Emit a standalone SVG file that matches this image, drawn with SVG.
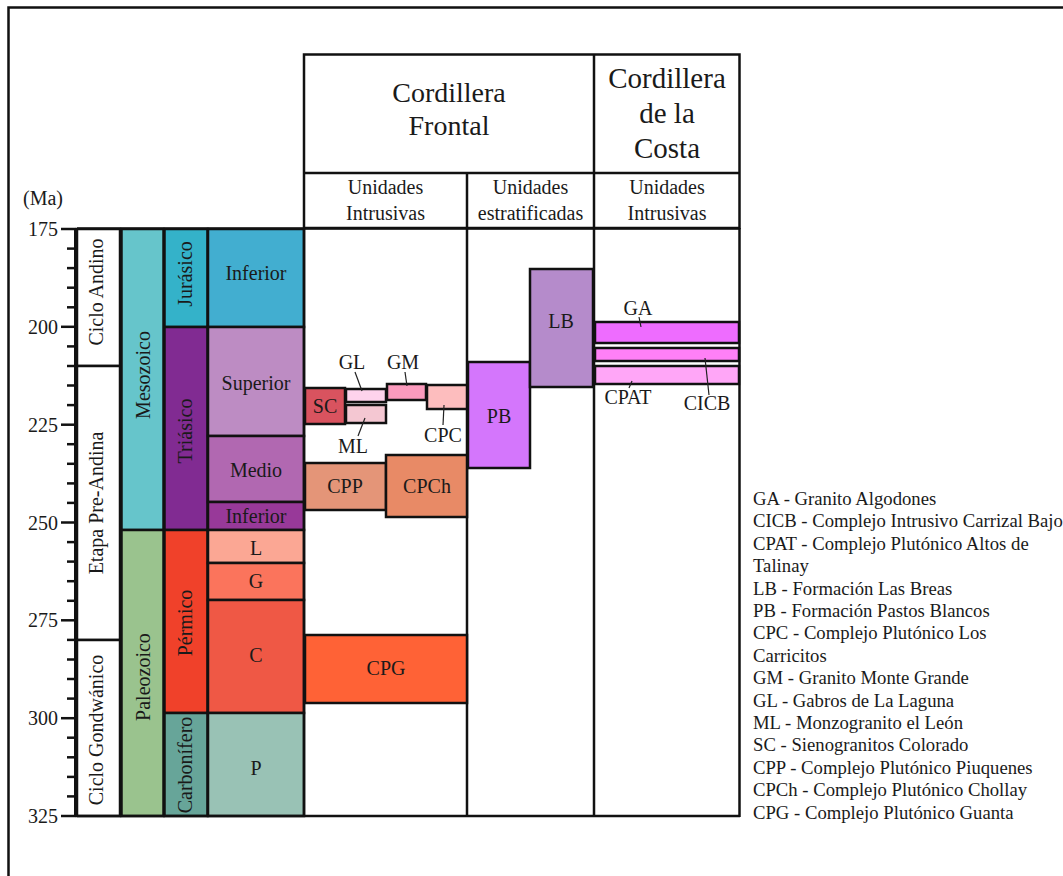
<svg xmlns="http://www.w3.org/2000/svg" width="1063" height="876" viewBox="0 0 1063 876">
<style>
text{font-family:"Liberation Serif","Times New Roman",serif;fill:#1a1a1a}
.b{stroke:#111;stroke-width:2.5}
.t20{font-size:20px}
.c{text-anchor:middle}
.r{text-anchor:end}
.tick{stroke:#111;stroke-width:2.5}
.lead{stroke:#222;stroke-width:1.2;fill:none}
.leg{font-size:18.7px}
</style>
<rect x="0" y="0" width="1063" height="876" fill="#fff"/>
<rect x="8.5" y="7.5" width="1100" height="900" fill="none" stroke="#111" stroke-width="2.5"/>

<g id="axis">
<text class="t20" x="23" y="205">(Ma)</text>
<line x1="75.5" y1="228" x2="75.5" y2="817" stroke="#111" stroke-width="3"/>
<g class="tick">
<line x1="61" y1="229" x2="76" y2="229"/><line x1="67" y1="248.6" x2="76" y2="248.6"/><line x1="67" y1="268.1" x2="76" y2="268.1"/><line x1="67" y1="287.7" x2="76" y2="287.7"/><line x1="67" y1="307.3" x2="76" y2="307.3"/>
<line x1="61" y1="326.8" x2="76" y2="326.8"/><line x1="67" y1="346.4" x2="76" y2="346.4"/><line x1="67" y1="366" x2="76" y2="366"/><line x1="67" y1="385.5" x2="76" y2="385.5"/><line x1="67" y1="405.1" x2="76" y2="405.1"/>
<line x1="61" y1="424.7" x2="76" y2="424.7"/><line x1="67" y1="444.2" x2="76" y2="444.2"/><line x1="67" y1="463.8" x2="76" y2="463.8"/><line x1="67" y1="483.4" x2="76" y2="483.4"/><line x1="67" y1="502.9" x2="76" y2="502.9"/>
<line x1="61" y1="522.5" x2="76" y2="522.5"/><line x1="67" y1="542.1" x2="76" y2="542.1"/><line x1="67" y1="561.6" x2="76" y2="561.6"/><line x1="67" y1="581.2" x2="76" y2="581.2"/><line x1="67" y1="600.8" x2="76" y2="600.8"/>
<line x1="61" y1="620.3" x2="76" y2="620.3"/><line x1="67" y1="639.9" x2="76" y2="639.9"/><line x1="67" y1="659.5" x2="76" y2="659.5"/><line x1="67" y1="679" x2="76" y2="679"/><line x1="67" y1="698.6" x2="76" y2="698.6"/>
<line x1="61" y1="718.2" x2="76" y2="718.2"/><line x1="67" y1="737.7" x2="76" y2="737.7"/><line x1="67" y1="757.3" x2="76" y2="757.3"/><line x1="67" y1="776.9" x2="76" y2="776.9"/><line x1="67" y1="796.4" x2="76" y2="796.4"/>
<line x1="61" y1="816" x2="76" y2="816"/>
</g>
<g class="t20 r">
<text x="58" y="236">175</text><text x="58" y="334">200</text><text x="58" y="432">225</text><text x="58" y="530">250</text><text x="58" y="627">275</text><text x="58" y="725">300</text><text x="58" y="823">325</text>
</g>
</g>

<g id="ciclo-andino"><rect class="b" x="77" y="229" width="43" height="137" fill="#fff"/><text class="t20 c" transform="translate(103,292) rotate(-90)">Ciclo Andino</text></g>
<g id="etapa-pre-andina"><rect class="b" x="77" y="366" width="43" height="274" fill="#fff"/><text class="t20 c" transform="translate(103,503) rotate(-90)">Etapa Pre-Andina</text></g>
<g id="ciclo-gondwanico"><rect class="b" x="77" y="640" width="43" height="176" fill="#fff"/><text class="t20 c" transform="translate(103,730) rotate(-90)">Ciclo Gondwánico</text></g>

<g id="mesozoico"><rect class="b" x="121.5" y="229" width="42" height="301" fill="#66C5CB"/><text class="t20 c" transform="translate(150,375) rotate(-90)">Mesozoico</text></g>
<g id="paleozoico"><rect class="b" x="121.5" y="530" width="42" height="286" fill="#9AC38E"/><text class="t20 c" transform="translate(150,677) rotate(-90)">Paleozoico</text></g>

<g id="jurasico"><rect class="b" x="164.5" y="229" width="43" height="98" fill="#34B2C9"/><text class="t20 c" transform="translate(192,274) rotate(-90)">Jurásico</text></g>
<g id="triasico"><rect class="b" x="164.5" y="327" width="43" height="203" fill="#812B92"/><text class="t20 c" transform="translate(192,431) rotate(-90)">Triásico</text></g>
<g id="permico"><rect class="b" x="164.5" y="530" width="43" height="183" fill="#F0412A"/><text class="t20 c" transform="translate(192,623) rotate(-90)">Pérmico</text></g>
<g id="carbonifero"><rect class="b" x="164.5" y="713" width="43" height="103" fill="#67A599"/><text class="t20 c" transform="translate(192,765) rotate(-90)">Carbonífero</text></g>

<g id="jur-inferior"><rect class="b" x="208" y="229" width="96" height="98" fill="#42AED0"/><text class="t20 c" x="256" y="280">Inferior</text></g>
<g id="superior"><rect class="b" x="208" y="327" width="96" height="109" fill="#BD8CC3"/><text class="t20 c" x="256" y="390">Superior</text></g>
<g id="medio"><rect class="b" x="208" y="436" width="96" height="66" fill="#B168B1"/><text class="t20 c" x="256" y="477">Medio</text></g>
<g id="tri-inferior"><rect class="b" x="208" y="502" width="96" height="28" fill="#983999"/><text class="t20 c" x="256" y="523">Inferior</text></g>
<g id="L"><rect class="b" x="208" y="530" width="96" height="33" fill="#FBA794"/><text class="t20 c" x="256" y="555">L</text></g>
<g id="G"><rect class="b" x="208" y="563" width="96" height="37" fill="#FB745C"/><text class="t20 c" x="256" y="588">G</text></g>
<g id="C"><rect class="b" x="208" y="600" width="96" height="113" fill="#EF5845"/><text class="t20 c" x="256" y="662">C</text></g>
<g id="P"><rect class="b" x="208" y="713" width="96" height="103" fill="#99C2B5"/><text class="t20 c" x="256" y="775">P</text></g>

<g id="header">
<rect class="b" x="304" y="54.5" width="435.5" height="173.5" fill="#fff"/>
<line class="b" x1="304" y1="173" x2="739.5" y2="173"/>
<line class="b" x1="594" y1="54.5" x2="594" y2="228"/>
<line class="b" x1="467" y1="173" x2="467" y2="228"/>
<text class="c" x="449" y="102" font-size="28">Cordillera</text>
<text class="c" x="449" y="135" font-size="28">Frontal</text>
<text class="c" x="667" y="88" font-size="29">Cordillera</text>
<text class="c" x="667" y="123" font-size="29">de la</text>
<text class="c" x="667" y="158" font-size="29">Costa</text>
<text class="t20 c" x="385.5" y="194">Unidades</text>
<text class="t20 c" x="385.5" y="220">Intrusivas</text>
<text class="t20 c" x="530.5" y="194">Unidades</text>
<text class="t20 c" x="530.5" y="220">estratificadas</text>
<text class="t20 c" x="667" y="194">Unidades</text>
<text class="t20 c" x="667" y="220">Intrusivas</text>
</g>

<g id="grid">
<line class="b" x1="77" y1="228.5" x2="740" y2="228.5"/>
<line class="b" x1="77" y1="816" x2="740" y2="816"/>
<line class="b" x1="304" y1="228" x2="304" y2="817"/>
<line class="b" x1="467" y1="228" x2="467" y2="817"/>
<line class="b" x1="594" y1="228" x2="594" y2="817"/>
<line class="b" x1="739.5" y1="228" x2="739.5" y2="817"/>
</g>

<g id="SC"><rect class="b" x="305" y="388" width="40" height="36" fill="#D9535F"/><text class="t20 c" x="325" y="413">SC</text></g>
<g id="GL"><rect class="b" x="346" y="389" width="40" height="13" fill="#FED3EC"/><text class="t20 c" x="352" y="369">GL</text></g>
<g id="ML"><rect class="b" x="346" y="405" width="40" height="18" fill="#F4C7D2"/><text class="t20 c" x="353" y="453">ML</text></g>
<g id="GM"><rect class="b" x="387" y="384" width="39" height="16" fill="#FB9ABD"/><text class="t20 c" x="403" y="369">GM</text></g>
<g id="CPC"><rect class="b" x="427" y="385" width="40" height="24" fill="#FDBDBE"/><text class="t20 c" x="443" y="442">CPC</text></g>
<g id="CPP"><rect class="b" x="305" y="463" width="81" height="47" fill="#E49578"/><text class="t20 c" x="345" y="493">CPP</text></g>
<g id="CPCh"><rect class="b" x="386" y="455" width="81" height="62" fill="#E88A66"/><text class="t20 c" x="427" y="493">CPCh</text></g>
<g id="PB"><rect class="b" x="468" y="362" width="62" height="106" fill="#D476FC"/><text class="t20 c" x="499" y="423">PB</text></g>
<g id="LB"><rect class="b" x="530" y="269" width="63" height="118" fill="#B58BCB"/><text class="t20 c" x="561" y="328">LB</text></g>
<g id="CPG"><rect class="b" x="305" y="635" width="162" height="68" fill="#FF6236"/><text class="t20 c" x="386" y="675">CPG</text></g>
<g id="GA"><rect class="b" x="595" y="322" width="144" height="21" fill="#EE6CFF"/><text class="t20 c" x="638" y="315">GA</text></g>
<g id="CICB"><rect class="b" x="595" y="348" width="144" height="13" fill="#FF80F7"/><text class="t20 c" x="707" y="410">CICB</text></g>
<g id="CPAT"><rect class="b" x="595" y="366" width="144" height="18" fill="#FFA6F7"/><text class="t20 c" x="628" y="404">CPAT</text></g>

<g id="connectors" class="lead">
<line x1="355" y1="372" x2="362" y2="391"/>
<line x1="405" y1="372" x2="407" y2="386"/>
<line x1="365" y1="418" x2="358" y2="436"/>
<line x1="444" y1="405" x2="443" y2="425"/>
<line x1="639" y1="317" x2="641" y2="327"/>
<line x1="632" y1="381" x2="629" y2="388"/>
<line x1="705" y1="358" x2="709" y2="395"/>
</g>

<g id="legend" class="leg">
<text x="753" y="505">GA - Granito Algodones</text>
<text x="753" y="527.4">CICB - Complejo Intrusivo Carrizal Bajo</text>
<text x="753" y="549.8">CPAT - Complejo Plutónico Altos de</text>
<text x="753" y="572.2">Talinay</text>
<text x="753" y="594.6">LB - Formación Las Breas</text>
<text x="753" y="617">PB - Formación Pastos Blancos</text>
<text x="753" y="639.4">CPC - Complejo Plutónico Los</text>
<text x="753" y="661.8">Carricitos</text>
<text x="753" y="684.2">GM - Granito Monte Grande</text>
<text x="753" y="706.6">GL - Gabros de La Laguna</text>
<text x="753" y="729">ML - Monzogranito el León</text>
<text x="753" y="751.4">SC - Sienogranitos Colorado</text>
<text x="753" y="773.8">CPP - Complejo Plutónico Piuquenes</text>
<text x="753" y="796.2">CPCh - Complejo Plutónico Chollay</text>
<text x="753" y="818.6">CPG - Complejo Plutónico Guanta</text>
</g>
</svg>
